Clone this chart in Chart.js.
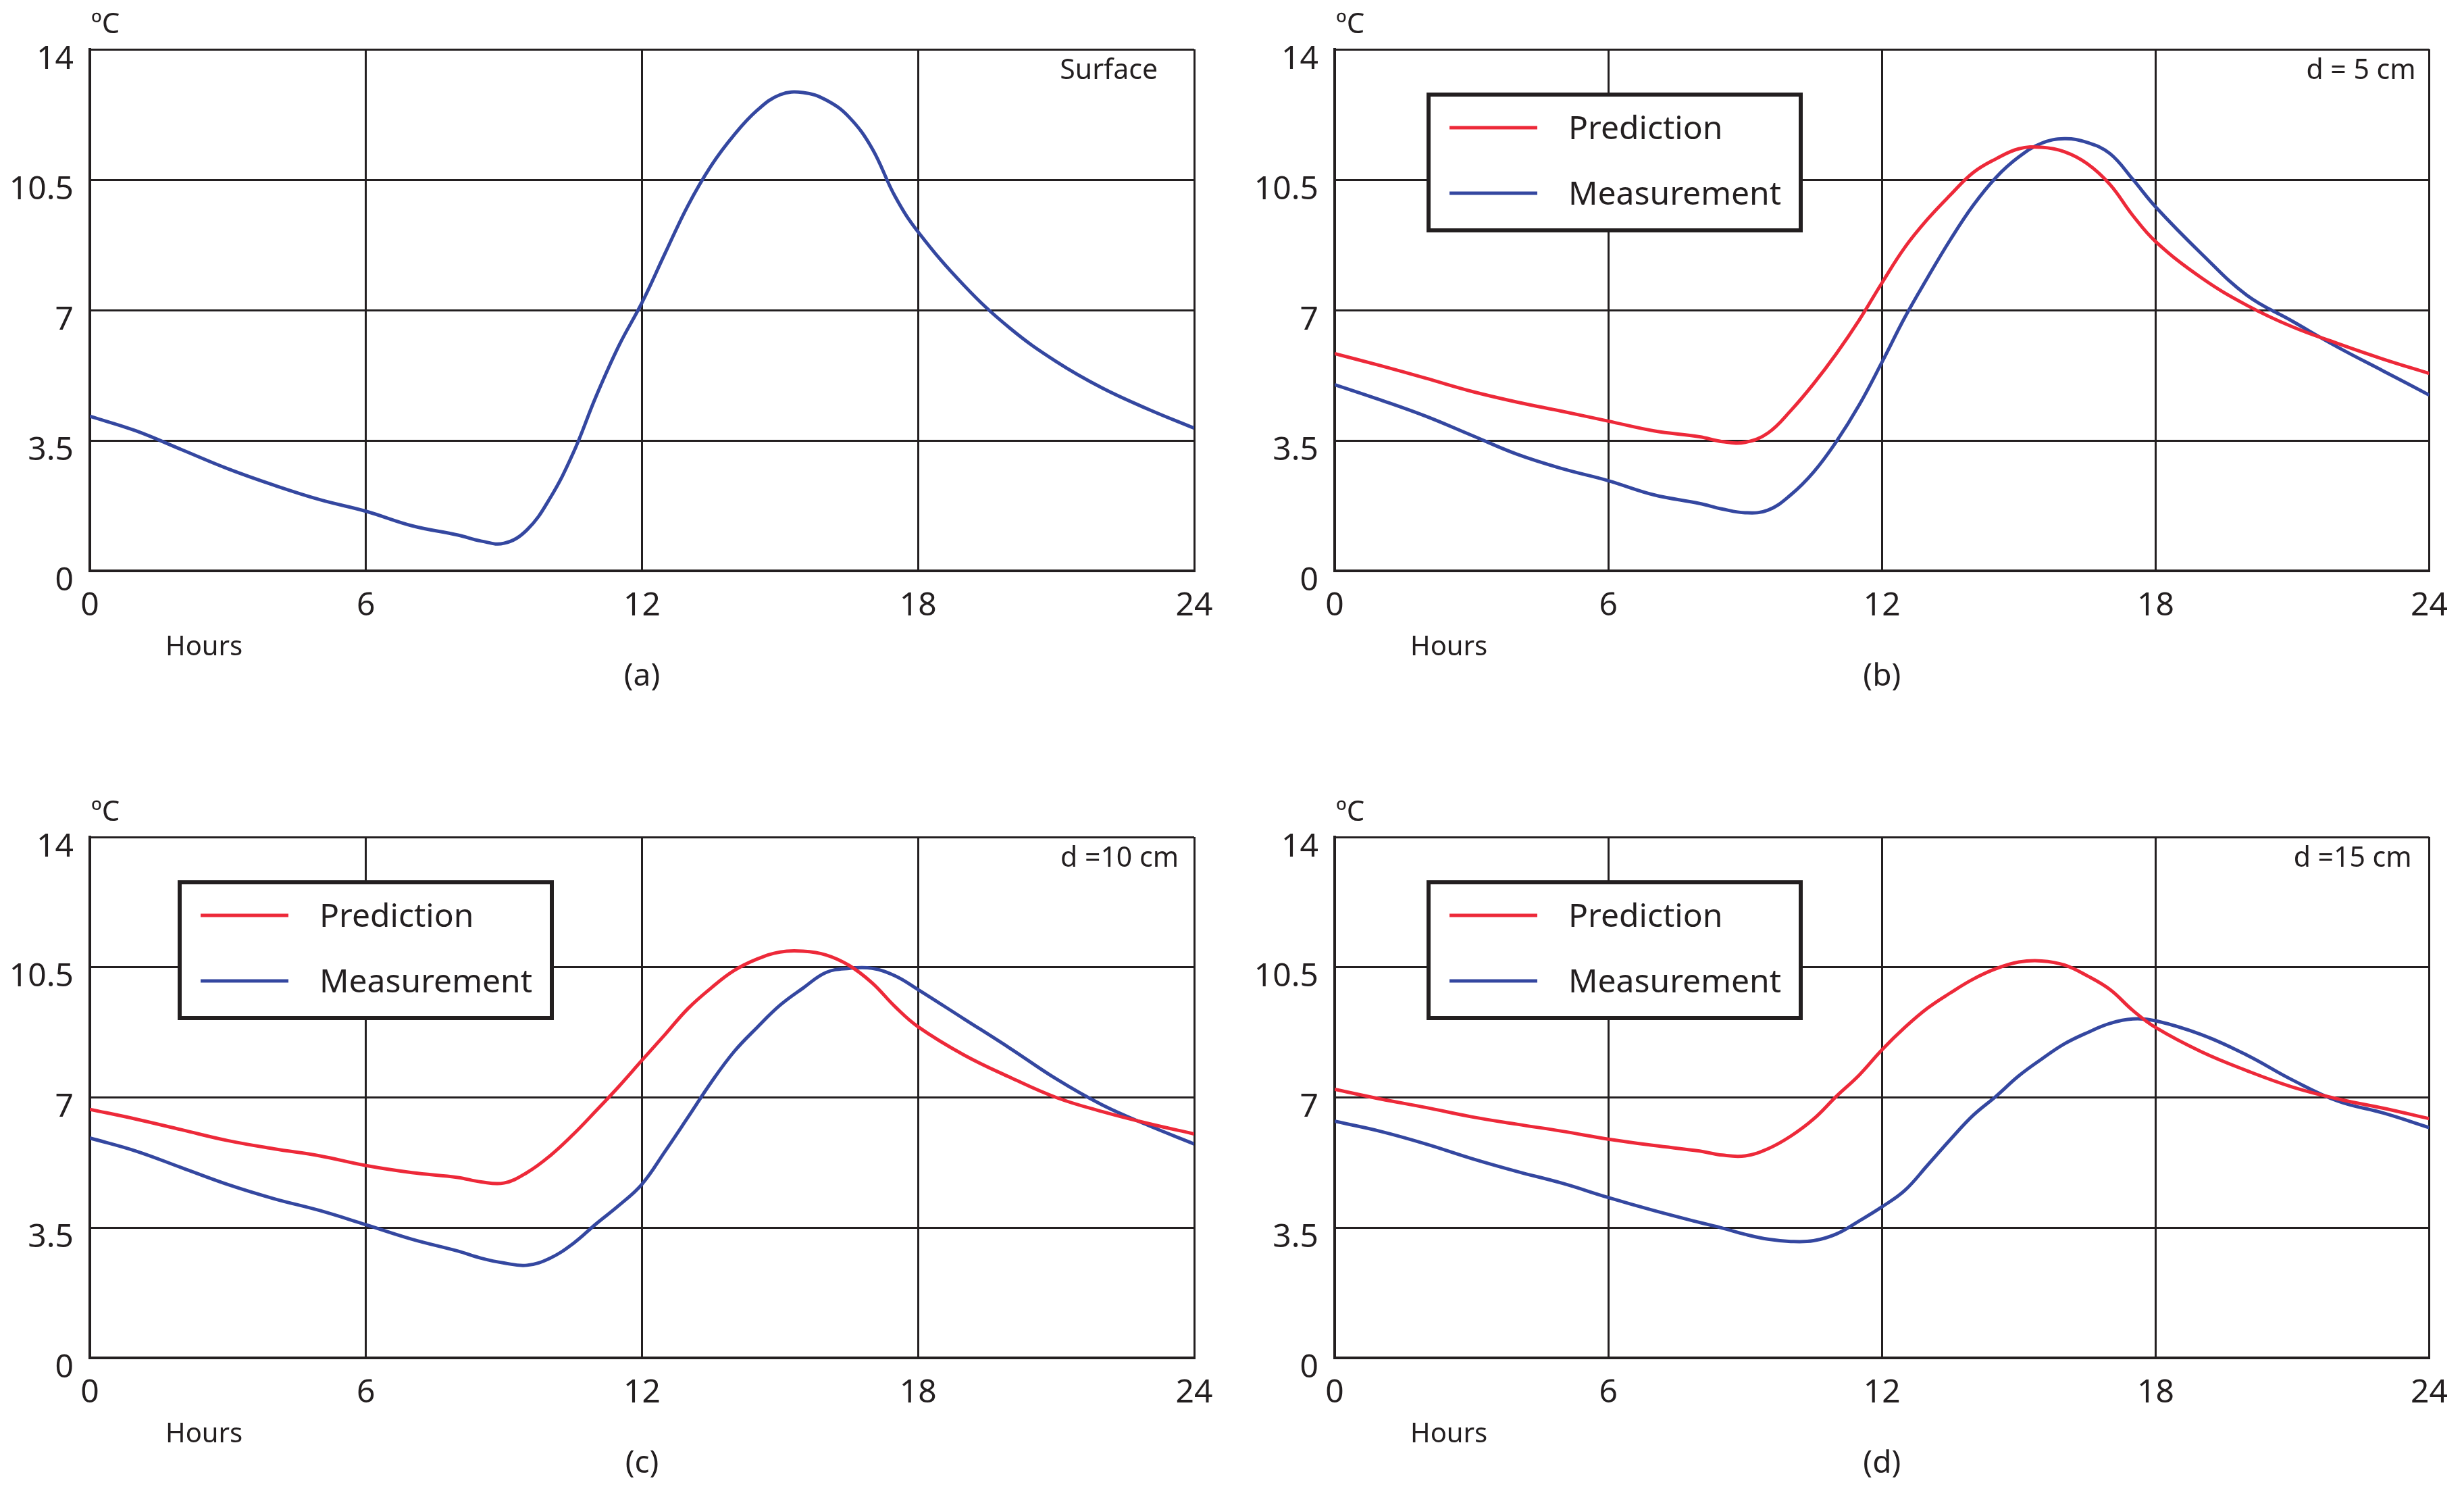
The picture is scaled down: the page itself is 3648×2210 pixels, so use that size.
<!DOCTYPE html>
<html>
<head>
<meta charset="utf-8">
<script src="https://cdn.jsdelivr.net/npm/chart.js@4.4.1/dist/chart.umd.min.js"></script>
<style>
  html, body { margin: 0; padding: 0; background: #fff; }
  #wrap { position: relative; width: 3648px; height: 2210px; background: #fff; }
  canvas { position: absolute; }
</style>
</head>
<body>
<div id="wrap">
  <canvas id="chart-a" width="1824" height="1105" style="left:0;top:0"></canvas>
  <canvas id="chart-b" width="1824" height="1105" style="left:1824px;top:0"></canvas>
  <canvas id="chart-c" width="1824" height="1105" style="left:0;top:1105px"></canvas>
  <canvas id="chart-d" width="1824" height="1105" style="left:1824px;top:1105px"></canvas>
</div>
<script>
// values (hours, degC)
const hours = [0, 1, 2, 3, 4, 5, 6, 7, 8, 8.5, 9, 9.5, 10, 10.5, 11, 11.5, 12, 12.5, 13, 13.5,
  14, 14.5, 15, 15.5, 16, 16.5, 17, 17.5, 18, 19, 20, 21, 22, 23, 24];

const surface = [4.15, 3.76, 3.25, 2.74, 2.30, 1.91, 1.60, 1.21, 0.96, 0.80, 0.74, 1.10, 1.95, 3.15, 4.68, 6.05,
  7.20, 8.52, 9.81, 10.87, 11.70, 12.36, 12.78, 12.84, 12.64, 12.18, 11.34, 10.05, 9.10, 7.66, 6.51, 5.62, 4.91, 4.34, 3.83];

const pred5 = [5.83, 5.51, 5.17, 4.82, 4.53, 4.28, 4.02, 3.76, 3.60, 3.47, 3.45, 3.70, 4.30, 5.02, 5.83, 6.73,
  7.73, 8.68, 9.44, 10.09, 10.69, 11.06, 11.33, 11.37, 11.25, 10.93, 10.37, 9.54, 8.84, 7.87, 7.13, 6.55, 6.10, 5.68, 5.30];
const meas5 = [5.00, 4.59, 4.15, 3.64, 3.13, 2.74, 2.42, 2.04, 1.81, 1.66, 1.56, 1.63, 2.04, 2.65, 3.47, 4.45,
  5.60, 6.80, 7.87, 8.89, 9.81, 10.56, 11.11, 11.48, 11.60, 11.50, 11.20, 10.51, 9.77, 8.52, 7.40, 6.70, 6.00, 5.36, 4.72];

const pred10 = [6.68, 6.42, 6.13, 5.84, 5.62, 5.43, 5.17, 4.98, 4.85, 4.73, 4.70, 4.98, 5.43, 6.00, 6.64, 7.30,
  8.00, 8.69, 9.39, 9.94, 10.41, 10.72, 10.91, 10.93, 10.83, 10.55, 10.08, 9.44, 8.90, 8.14, 7.54, 7.00, 6.62, 6.30, 6.02];
const meas10 = [5.91, 5.56, 5.11, 4.66, 4.28, 3.96, 3.58, 3.19, 2.87, 2.68, 2.55, 2.49, 2.68, 3.07, 3.60, 4.10,
  4.67, 5.55, 6.47, 7.40, 8.23, 8.88, 9.48, 9.94, 10.36, 10.47, 10.47, 10.27, 9.90, 9.11, 8.32, 7.50, 6.80, 6.25, 5.75];

const pred15 = [7.22, 6.96, 6.73, 6.48, 6.28, 6.09, 5.88, 5.71, 5.56, 5.45, 5.43, 5.62, 5.96, 6.42, 7.03, 7.60,
  8.28, 8.88, 9.40, 9.81, 10.18, 10.46, 10.64, 10.67, 10.56, 10.27, 9.90, 9.34, 8.88, 8.23, 7.72, 7.28, 6.96, 6.71, 6.43];
const meas15 = [6.36, 6.09, 5.75, 5.36, 5.01, 4.69, 4.31, 3.96, 3.64, 3.49, 3.32, 3.19, 3.13, 3.15, 3.33, 3.68,
  4.06, 4.50, 5.18, 5.87, 6.52, 7.03, 7.58, 8.03, 8.44, 8.74, 8.99, 9.11, 9.06, 8.69, 8.14, 7.47, 6.90, 6.58, 6.19];

const yTicks = [0, 3.5, 7, 10.5, 14];
const xTicks = [0, 6, 12, 18, 24];

const INK = '#231f20';
const RED = '#ed2939';
const BLUE = '#3447a0';
const FONT = "'Noto Sans', sans-serif";

Chart.defaults.font.family = FONT;
Chart.defaults.color = INK;

function pts(ys) {
  return hours.map((h, i) => ({ x: h, y: ys[i] }));
}

function line(label, ys, color) {
  return {
    label, data: pts(ys), borderColor: color, backgroundColor: color,
    borderWidth: 5, pointRadius: 0, fill: false, tension: 0.4
  };
}

// texts, legend box and units drawn relative to the plot area
const panelText = {
  id: 'panelText',
  afterDraw(chart, args, o) {
    const { ctx, chartArea: a } = chart;
    ctx.save();
    ctx.fillStyle = INK;
    ctx.textBaseline = 'middle';

    ctx.textAlign = 'left';
    ctx.font = `42px ${FONT}`;
    ctx.fillText('ºC', a.left + 2, a.top - 36);
    ctx.font = `40px ${FONT}`;
    ctx.fillText('Hours', a.left + 112, a.bottom + 114);

    ctx.textAlign = 'right';
    ctx.font = `41px ${FONT}`;
    ctx.fillText(o.tag, a.right - o.tagGap, a.top + 32);

    ctx.textAlign = 'center';
    ctx.font = `46px ${FONT}`;
    ctx.fillText(o.caption, (a.left + a.right) / 2, a.bottom + 157);

    if (o.legendLeft != null) {
      const bx = a.left + o.legendLeft, by = a.top + 64, bw = 557, bh = 207;
      ctx.fillStyle = '#fff';
      ctx.fillRect(bx, by, bw, bh);
      ctx.strokeStyle = INK;
      ctx.lineWidth = 6;
      ctx.strokeRect(bx + 3, by + 3, bw - 6, bh - 6);
      ctx.font = `48px ${FONT}`;
      ctx.textAlign = 'left';
      ctx.textBaseline = 'alphabetic';
      chart.data.datasets.forEach((ds, i) => {
        const ly = by + 52 + i * 97;
        ctx.strokeStyle = ds.borderColor;
        ctx.lineWidth = 5;
        ctx.beginPath();
        ctx.moveTo(bx + 34, ly);
        ctx.lineTo(bx + 164, ly);
        ctx.stroke();
        ctx.fillStyle = INK;
        ctx.fillText(ds.label, bx + 210, ly + 17);
      });
    }
    ctx.restore();
  }
};

function makeChart(id, datasets, p) {
  return new Chart(document.getElementById(id), {
    type: 'line',
    data: { datasets },
    plugins: [panelText],
    options: {
      responsive: false, animation: false, devicePixelRatio: 1,
      layout: { autoPadding: false, padding: { left: 0, top: p.top, right: p.right, bottom: 0 } },
      plugins: {
        legend: { display: false }, tooltip: { enabled: false },
        panelText: { tag: p.tag, tagGap: p.tagGap, caption: p.caption, legendLeft: p.legendLeft }
      },
      scales: {
        x: {
          type: 'linear', min: 0, max: 24,
          afterBuildTicks: s => { s.ticks = xTicks.map(v => ({ value: v })); },
          afterFit: s => { s.height = p.xh; },
          grid: { color: INK, lineWidth: 3, drawTicks: false },
          border: { color: INK, width: 4 },
          ticks: { padding: 24, font: { size: 48 }, color: INK, maxRotation: 0 }
        },
        y: {
          type: 'linear', min: 0, max: 14,
          afterBuildTicks: s => { s.ticks = yTicks.map(v => ({ value: v })); },
          afterFit: s => { s.width = p.yw; },
          grid: { color: INK, lineWidth: 3, drawTicks: false },
          border: { color: INK, width: 4 },
          ticks: { padding: 24, labelOffset: 15, font: { size: 48 }, color: INK, callback: v => String(v) }
        }
      }
    }
  });
}

makeChart('chart-a', [line('Measurement', surface, BLUE)],
  { top: 73, right: 56, yw: 133, xh: 260, tag: 'Surface', tagGap: 54, caption: '(a)', legendLeft: null });
makeChart('chart-b', [line('Prediction', pred5, RED), line('Measurement', meas5, BLUE)],
  { top: 73, right: 36, yw: 152, xh: 260, tag: 'd = 5 cm', tagGap: 20, caption: '(b)', legendLeft: 136 });
makeChart('chart-c', [line('Prediction', pred10, RED), line('Measurement', meas10, BLUE)],
  { top: 134, right: 56, yw: 133, xh: 200, tag: 'd =10 cm', tagGap: 23, caption: '(c)', legendLeft: 130 });
makeChart('chart-d', [line('Prediction', pred15, RED), line('Measurement', meas15, BLUE)],
  { top: 134, right: 36, yw: 152, xh: 200, tag: 'd =15 cm', tagGap: 26, caption: '(d)', legendLeft: 136 });
</script>
</body>
</html>
